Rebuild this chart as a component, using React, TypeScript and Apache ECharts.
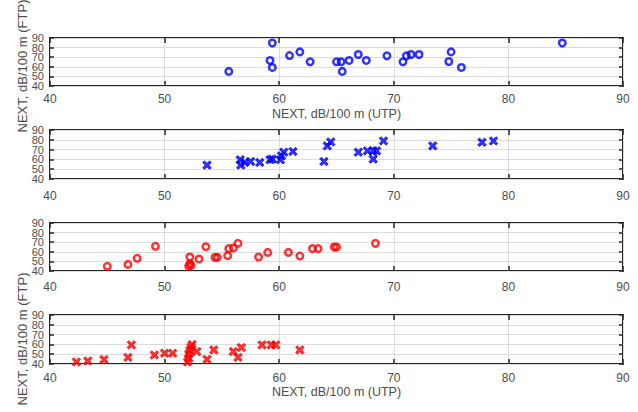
import React, { useEffect, useRef } from "react";
import * as echarts from "echarts";

// Panel 1: UTP vs FT (blue circles)
const p1X = [55.6, 59.4, 59.2, 59.4, 60.9, 61.8, 62.7, 65.0, 65.4, 65.5, 66.1, 66.9, 67.6, 69.4, 70.8, 71.1, 71.5, 72.2, 74.8, 75.0, 75.9, 84.7];
const p1Y = [55.2, 84.8, 66.6, 59.3, 71.7, 75.5, 65.2, 65.2, 65.2, 55.2, 66.6, 72.8, 66.6, 71.4, 65.2, 71.4, 72.8, 72.8, 65.5, 75.5, 59.3, 84.8];
// Panel 2: blue crosses
const p2X = [53.7, 56.6, 56.65, 57.0, 57.5, 58.3, 59.2, 59.4, 60.1, 60.2, 60.4, 61.2, 63.9, 64.2, 64.5, 66.9, 67.7, 68.2, 68.5, 68.2, 69.1, 73.4, 77.7, 78.7];
const p2Y = [54.2, 59.6, 54.2, 56.9, 57.9, 56.9, 59.6, 60.3, 59.6, 63.6, 67.4, 68.0, 57.9, 73.8, 77.8, 67.4, 68.7, 68.7, 68.7, 60.3, 78.9, 73.8, 77.5, 78.9];
// Panel 3: UTP vs FTP (red circles)
const p3X = [45.0, 46.8, 47.6, 49.2, 52.1, 52.3, 52.2, 52.2, 53.0, 53.6, 54.4, 54.6, 55.5, 55.6, 56.0, 56.4, 58.2, 59.0, 60.8, 61.8, 62.9, 63.4, 64.8, 65.0, 68.4];
const p3Y = [44.9, 46.9, 53.2, 65.7, 44.9, 46.0, 47.6, 54.6, 52.5, 65.3, 54.2, 54.2, 56.0, 63.3, 64.0, 68.8, 54.6, 59.4, 59.4, 55.6, 63.3, 63.3, 65.0, 65.0, 68.8];
// Panel 4: red crosses
const p4X = [42.3, 43.3, 44.7, 46.8, 47.1, 49.1, 50.0, 50.7, 52.0, 52.1, 52.1, 52.2, 52.3, 52.4, 52.8, 53.7, 54.3, 56.0, 56.4, 56.7, 58.5, 59.3, 59.7, 61.8];
const p4Y = [42.1, 43.1, 44.5, 46.8, 59.5, 49.2, 51.0, 51.0, 42.1, 45.8, 49.9, 53.7, 57.1, 59.9, 52.7, 44.8, 54.4, 52.7, 46.8, 56.8, 59.5, 59.5, 59.5, 54.4];

const xTitle = "NEXT, dB/100 m (UTP)";
const yTitle = "NEXT, dB/100 m (FTP)";
const axisMin = 40;
const axisMax = 90;
const axisStep = 10;
const yLabelsA = [40, 60, 80];
const yLabelsB = [50, 70, 90];

const FONT = "'Liberation Sans', Arial, sans-serif";
const TEXT = "#4d4d4d";
const FRAME = "#262626";
const GRIDC = "#dcdcdc";
const BLUE = "#0000ff";
const RED = "#ff0000";
const XSYM = "path://M2,0 L5,3 L8,0 L10,2 L7,5 L10,8 L8,10 L5,7 L2,10 L0,8 L3,5 L0,2 Z";

const grids = [
  { top: 38, height: 48, margin: 7, title: true },
  { top: 130, height: 49, margin: 11, title: false },
  { top: 223, height: 48, margin: 9.5, title: false },
  { top: 315, height: 49, margin: 7.5, title: true },
];

const panels = [
  { xs: p1X, ys: p1Y, color: BLUE, symbol: "circle" },
  { xs: p2X, ys: p2Y, color: BLUE, symbol: XSYM },
  { xs: p3X, ys: p3Y, color: RED, symbol: "circle" },
  { xs: p4X, ys: p4Y, color: RED, symbol: XSYM },
];

export default function App() {
  const ref = useRef<HTMLDivElement>(null);
  useEffect(() => {
    if (!ref.current) return;
    const chart = echarts.init(ref.current, null, { renderer: "svg" });
    const xAxes: any[] = [];
    const yAxes: any[] = [];
    const yLabelStyle = {
      show: true, fontSize: 11, color: TEXT, fontFamily: FONT, margin: 6,
      showMinLabel: true, showMaxLabel: true, hideOverlap: false,
    };
    grids.forEach((g, i) => {
      const base = {
        gridIndex: i,
        type: "value",
        min: axisMin,
        max: axisMax,
        interval: axisStep,
        axisLine: { show: false },
        axisTick: { show: true, inside: true, length: 5, lineStyle: { color: FRAME, width: 1.5 } },
      };
      xAxes.push({
        ...base,
        position: "bottom",
        axisLabel: {
          show: true, fontSize: 12, color: TEXT, fontFamily: FONT, margin: g.margin,
          showMinLabel: true, showMaxLabel: true, hideOverlap: false,
        },
        splitLine: { show: true, lineStyle: { color: GRIDC, width: 1 } },
        name: g.title ? xTitle : "",
        nameLocation: "middle",
        nameGap: 21,
        nameTextStyle: { fontSize: 12.5, color: TEXT, fontFamily: FONT, verticalAlign: "top" },
      });
      xAxes.push({
        ...base,
        position: "top",
        axisLabel: { show: false },
        splitLine: { show: false },
      });
      yAxes.push({
        ...base,
        position: "left",
        axisTick: { ...base.axisTick, length: 4 },
        axisLabel: { ...yLabelStyle, customValues: yLabelsA },
        splitLine: { show: true, lineStyle: { color: GRIDC, width: 1 } },
      });
      yAxes.push({
        ...base,
        position: "left",
        offset: 0,
        axisTick: { show: false },
        axisLabel: { ...yLabelStyle, customValues: yLabelsB },
        splitLine: { show: false },
      });
      yAxes.push({
        ...base,
        position: "right",
        axisTick: { ...base.axisTick, length: 4 },
        axisLabel: { show: false },
        splitLine: { show: false },
      });
    });
    const series = panels.map((p, i) => ({
      type: "scatter",
      xAxisIndex: i * 2,
      yAxisIndex: i * 3,
      data: p.xs.map((x, k) => [x, p.ys[k]]),
      symbol: p.symbol,
      symbolSize: p.symbol === "circle" ? 6.5 : 8.5,
      itemStyle:
        p.symbol === "circle"
          ? { color: "transparent", borderColor: p.color, borderWidth: 2.5 }
          : { color: p.color, borderColor: p.color, borderWidth: 1 },
      z: 5,
    }));
    chart.setOption({
      animation: false,
      backgroundColor: "#ffffff",
      grid: grids.map((g) => ({
        left: 50,
        right: 15,
        top: g.top,
        height: g.height,
        show: true,
        borderColor: FRAME,
        borderWidth: 2,
        backgroundColor: "transparent",
      })),
      xAxis: xAxes,
      yAxis: yAxes,
      series,
      graphic: [
        {
          type: "text", x: 22, y: 66, rotation: Math.PI / 2,
          style: { text: yTitle, fontSize: 13, fill: TEXT, fontFamily: FONT, align: "center", verticalAlign: "middle" },
        },
        {
          type: "text", x: 22, y: 339, rotation: Math.PI / 2,
          style: { text: yTitle, fontSize: 13, fill: TEXT, fontFamily: FONT, align: "center", verticalAlign: "middle" },
        },
      ],
    });
    return () => chart.dispose();
  }, []);
  return <div ref={ref} style={{ position: "fixed", left: 0, top: 0, width: 638, height: 412 }} />;
}
